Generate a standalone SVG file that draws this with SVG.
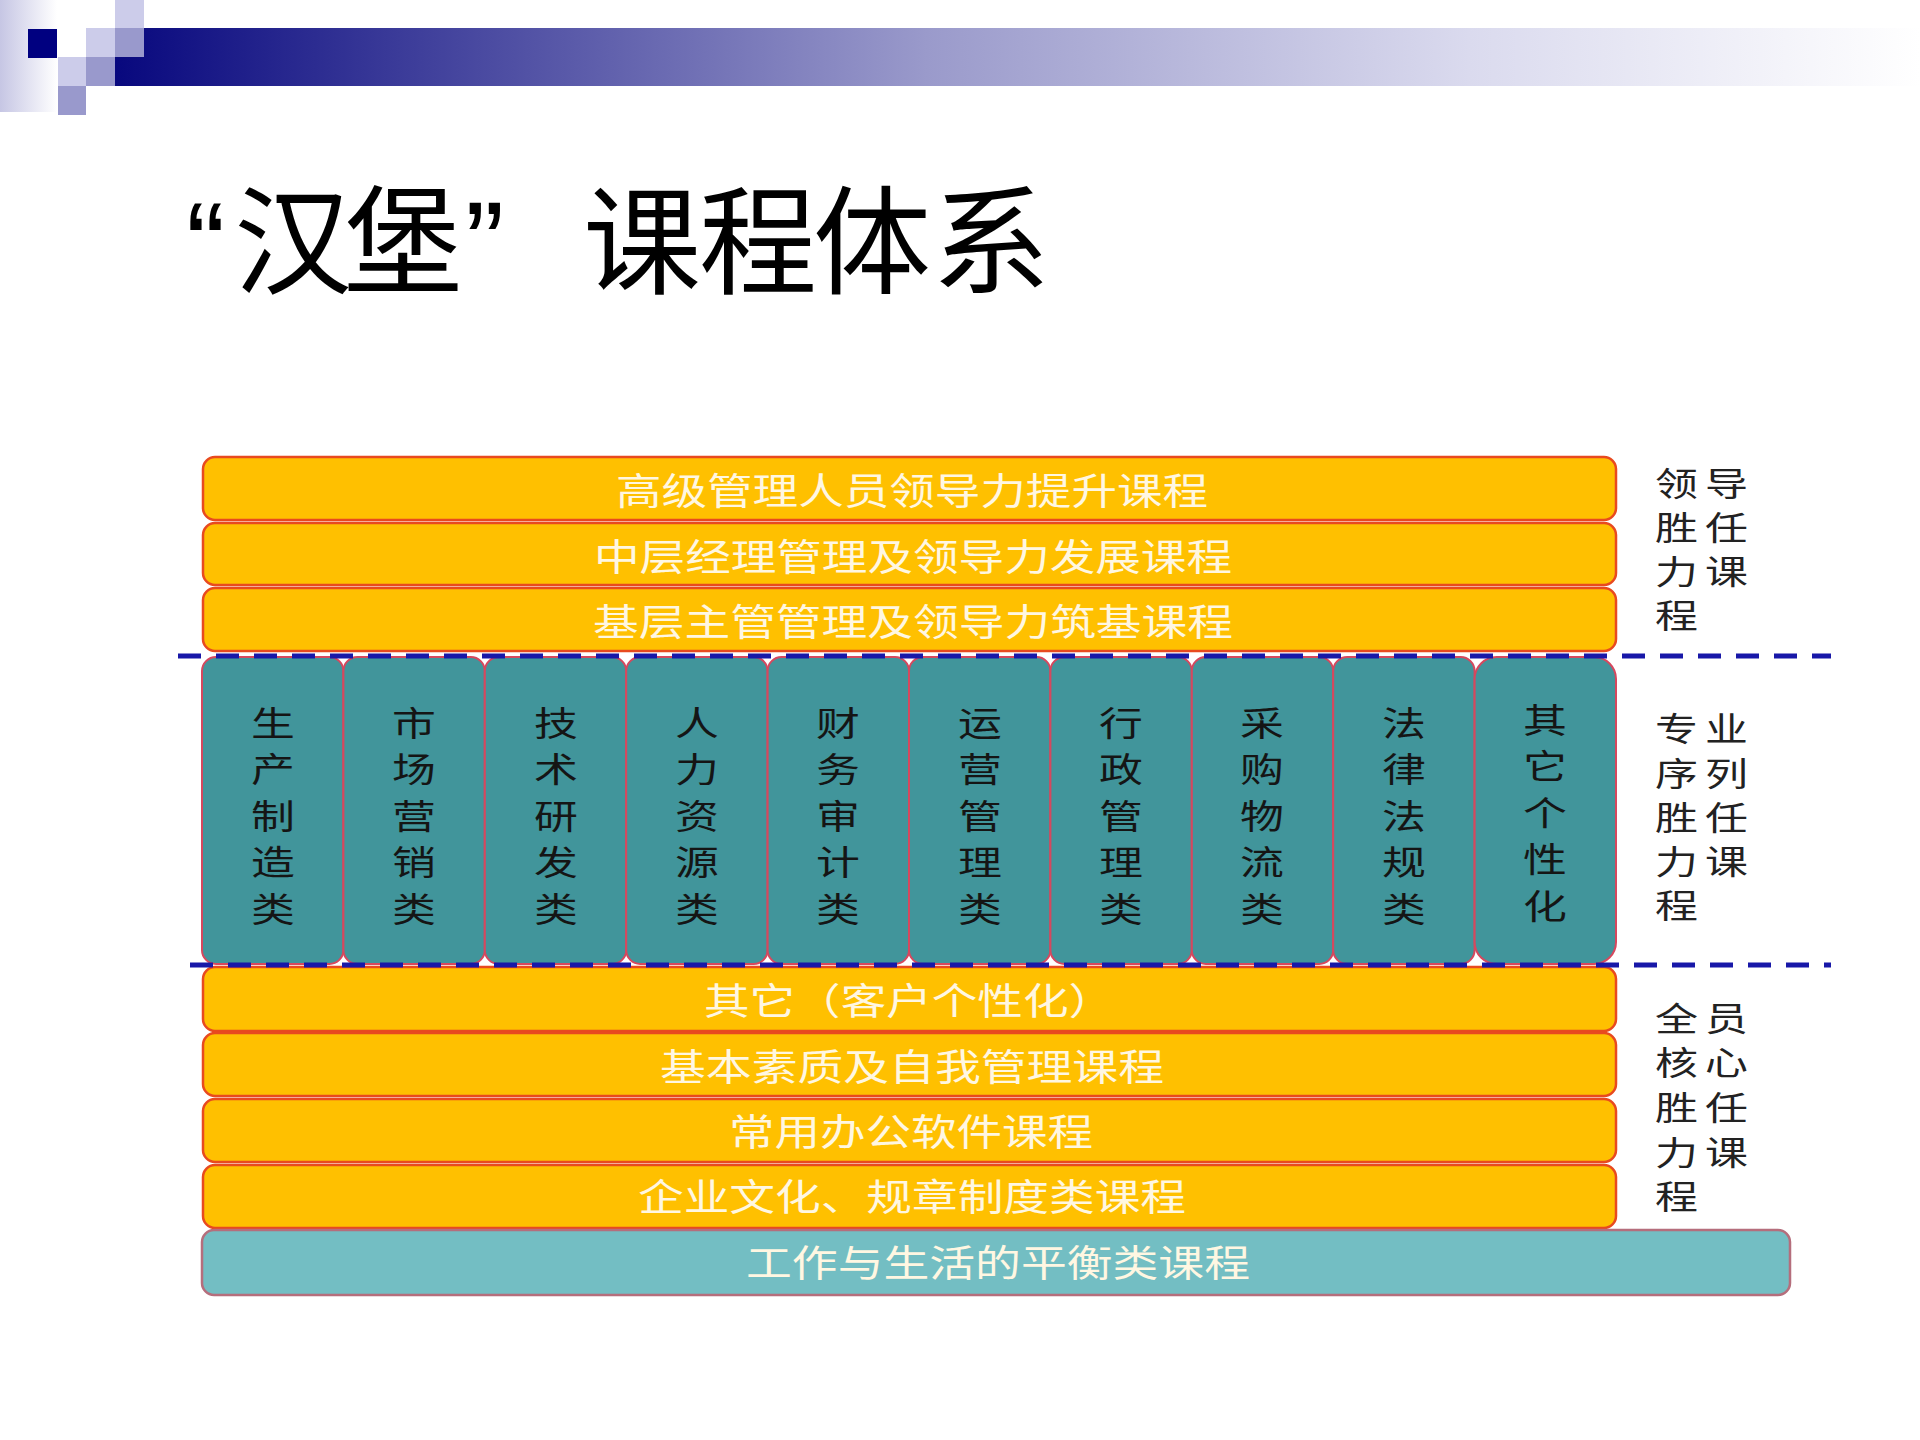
<svg xmlns="http://www.w3.org/2000/svg" width="1920" height="1440" viewBox="0 0 1920 1440">
<defs>
<linearGradient id="gLeft" x1="0" y1="0" x2="1" y2="0">
<stop offset="0" stop-color="#c6c6e4"/>
<stop offset="1" stop-color="#ffffff"/>
</linearGradient>
<linearGradient id="gBar" gradientUnits="userSpaceOnUse" x1="115" y1="0" x2="1920" y2="0">
<stop offset="0" stop-color="#08087e"/>
<stop offset="0.45" stop-color="#9a9acb"/>
<stop offset="0.75" stop-color="#dadaee"/>
<stop offset="1" stop-color="#ffffff"/>
</linearGradient>
<style>
.ob{fill:#FFC000;stroke:#E84A1F;stroke-width:2.5}
.tc{fill:#41959B;stroke:#D6485E;stroke-width:2}
.tb{fill:#73BEC3;stroke:#B56E7C;stroke-width:2.5}
.bt{font-family:"Noto Sans CJK SC","Noto Sans CJK TC",sans-serif;font-size:37px;fill:#FFF7E2;text-anchor:middle}
.ct{font-family:"Noto Sans CJK SC",sans-serif;font-size:34px;fill:#151515;text-anchor:middle}
.lt{font-family:"Noto Sans CJK SC",sans-serif;font-size:33px;fill:#222222;letter-spacing:5.5px}
.dash{fill:none;stroke:#1818A8;stroke-width:5;stroke-dasharray:23 15}
.lite{fill:#ccccea}
.mid{fill:#9999cc}
</style>
</defs>
<rect width="1920" height="1440" fill="#ffffff"/>

<g id="header">
<rect x="0" y="0" width="57" height="112" fill="url(#gLeft)"/>
<polygon points="144,28 1920,28 1920,86 115,86 115,57 144,57" fill="url(#gBar)"/>
<rect x="28" y="29" width="29" height="29" fill="#000080"/>
<rect class="lite" x="115" y="0" width="29" height="28"/>
<rect class="lite" x="86" y="28" width="29" height="29"/>
<rect class="lite" x="58" y="57" width="28" height="29"/>
<rect class="mid" x="115" y="28" width="29" height="29"/>
<rect class="mid" x="86" y="57" width="29" height="29"/>
<rect class="mid" x="58" y="86" width="28" height="29"/>
</g>

<text id="title" font-family="Liberation Sans, Noto Sans CJK SC, sans-serif" font-size="118" fill="#000000" y="285" x="186 234 344 465 583 699 813 932">“汉堡”课程体系</text>

<g id="leader-courses">
<g id="bar-senior"><rect class="ob" x="203" y="457" width="1413" height="63" rx="12"/><text class="bt" x="912" y="505" textLength="592" lengthAdjust="spacingAndGlyphs">高级管理人员领导力提升课程</text></g>
<g id="bar-middle"><rect class="ob" x="203" y="523" width="1413" height="62" rx="12"/><text class="bt" x="913" y="571" textLength="638" lengthAdjust="spacingAndGlyphs">中层经理管理及领导力发展课程</text></g>
<g id="bar-base"><rect class="ob" x="203" y="588" width="1413" height="63" rx="12"/><text class="bt" x="913" y="636" textLength="640" lengthAdjust="spacingAndGlyphs">基层主管管理及领导力筑基课程</text></g>
</g>

<g id="professional-courses">
<g id="col-1"><rect class="tc" x="202" y="657" width="141.4" height="307" rx="14"/>
<text class="ct" transform="translate(273 0) scale(1.29 1)"><tspan x="0" y="736">生</tspan><tspan x="0" y="782">产</tspan><tspan x="0" y="829">制</tspan><tspan x="0" y="875">造</tspan><tspan x="0" y="922">类</tspan></text></g>
<g id="col-2"><rect class="tc" x="343.4" y="657" width="141.4" height="307" rx="14"/>
<text class="ct" transform="translate(414 0) scale(1.29 1)"><tspan x="0" y="736">市</tspan><tspan x="0" y="782">场</tspan><tspan x="0" y="829">营</tspan><tspan x="0" y="875">销</tspan><tspan x="0" y="922">类</tspan></text></g>
<g id="col-3"><rect class="tc" x="484.8" y="657" width="141.4" height="307" rx="14"/>
<text class="ct" transform="translate(556 0) scale(1.29 1)"><tspan x="0" y="736">技</tspan><tspan x="0" y="782">术</tspan><tspan x="0" y="829">研</tspan><tspan x="0" y="875">发</tspan><tspan x="0" y="922">类</tspan></text></g>
<g id="col-4"><rect class="tc" x="626.2" y="657" width="141.4" height="307" rx="14"/>
<text class="ct" transform="translate(697 0) scale(1.29 1)"><tspan x="0" y="736">人</tspan><tspan x="0" y="782">力</tspan><tspan x="0" y="829">资</tspan><tspan x="0" y="875">源</tspan><tspan x="0" y="922">类</tspan></text></g>
<g id="col-5"><rect class="tc" x="767.6" y="657" width="141.4" height="307" rx="14"/>
<text class="ct" transform="translate(838 0) scale(1.29 1)"><tspan x="0" y="736">财</tspan><tspan x="0" y="782">务</tspan><tspan x="0" y="829">审</tspan><tspan x="0" y="875">计</tspan><tspan x="0" y="922">类</tspan></text></g>
<g id="col-6"><rect class="tc" x="909" y="657" width="141.4" height="307" rx="14"/>
<text class="ct" transform="translate(980 0) scale(1.29 1)"><tspan x="0" y="736">运</tspan><tspan x="0" y="782">营</tspan><tspan x="0" y="829">管</tspan><tspan x="0" y="875">理</tspan><tspan x="0" y="922">类</tspan></text></g>
<g id="col-7"><rect class="tc" x="1050.4" y="657" width="141.4" height="307" rx="14"/>
<text class="ct" transform="translate(1121 0) scale(1.29 1)"><tspan x="0" y="736">行</tspan><tspan x="0" y="782">政</tspan><tspan x="0" y="829">管</tspan><tspan x="0" y="875">理</tspan><tspan x="0" y="922">类</tspan></text></g>
<g id="col-8"><rect class="tc" x="1191.8" y="657" width="141.4" height="307" rx="14"/>
<text class="ct" transform="translate(1262 0) scale(1.29 1)"><tspan x="0" y="736">采</tspan><tspan x="0" y="782">购</tspan><tspan x="0" y="829">物</tspan><tspan x="0" y="875">流</tspan><tspan x="0" y="922">类</tspan></text></g>
<g id="col-9"><rect class="tc" x="1333.2" y="657" width="141.4" height="307" rx="14"/>
<text class="ct" transform="translate(1404 0) scale(1.29 1)"><tspan x="0" y="736">法</tspan><tspan x="0" y="782">律</tspan><tspan x="0" y="829">法</tspan><tspan x="0" y="875">规</tspan><tspan x="0" y="922">类</tspan></text></g>
<g id="col-10"><rect class="tc" x="1474.6" y="657" width="141.4" height="307" rx="22"/>
<text class="ct" transform="translate(1545 0) scale(1.29 1)"><tspan x="0" y="733">其</tspan><tspan x="0" y="779">它</tspan><tspan x="0" y="826">个</tspan><tspan x="0" y="872">性</tspan><tspan x="0" y="919">化</tspan></text></g>
</g>

<g id="core-courses">
<g id="bar-other"><rect class="ob" x="203" y="967" width="1413" height="64" rx="12"/><text class="bt" x="909" y="1015" textLength="410" lengthAdjust="spacingAndGlyphs">其它（客户个性化）</text></g>
<g id="bar-basic"><rect class="ob" x="203" y="1033" width="1413" height="63" rx="12"/><text class="bt" x="912" y="1081" textLength="504" lengthAdjust="spacingAndGlyphs">基本素质及自我管理课程</text></g>
<g id="bar-office"><rect class="ob" x="203" y="1099" width="1413" height="63" rx="12"/><text class="bt" x="911" y="1146" textLength="364" lengthAdjust="spacingAndGlyphs">常用办公软件课程</text></g>
<g id="bar-culture"><rect class="ob" x="203" y="1165" width="1413" height="63" rx="12"/><text class="bt" x="912" y="1211" textLength="548" lengthAdjust="spacingAndGlyphs">企业文化、规章制度类课程</text></g>
</g>

<g id="bar-balance"><rect class="tb" x="202" y="1230" width="1588" height="65" rx="12"/><text class="bt" x="998" y="1277" textLength="504" lengthAdjust="spacingAndGlyphs">工作与生活的平衡类课程</text></g>

<g id="connectors">
<line class="dash" x1="178" y1="656" x2="1831" y2="656"/>
<line class="dash" x1="190" y1="965" x2="1831" y2="965"/>
</g>

<g id="label-leader">
<text class="lt" transform="translate(1655 0) scale(1.3 1)"><tspan x="0" y="496">领导</tspan><tspan x="0" y="540">胜任</tspan><tspan x="0" y="584">力课</tspan><tspan x="0" y="628">程</tspan></text>
</g>
<g id="label-professional">
<text class="lt" transform="translate(1655 0) scale(1.3 1)"><tspan x="0" y="741">专业</tspan><tspan x="0" y="786">序列</tspan><tspan x="0" y="830">胜任</tspan><tspan x="0" y="874">力课</tspan><tspan x="0" y="918">程</tspan></text>
</g>
<g id="label-core">
<text class="lt" transform="translate(1655 0) scale(1.3 1)"><tspan x="0" y="1031">全员</tspan><tspan x="0" y="1075">核心</tspan><tspan x="0" y="1120">胜任</tspan><tspan x="0" y="1165">力课</tspan><tspan x="0" y="1209">程</tspan></text>
</g>
</svg>
